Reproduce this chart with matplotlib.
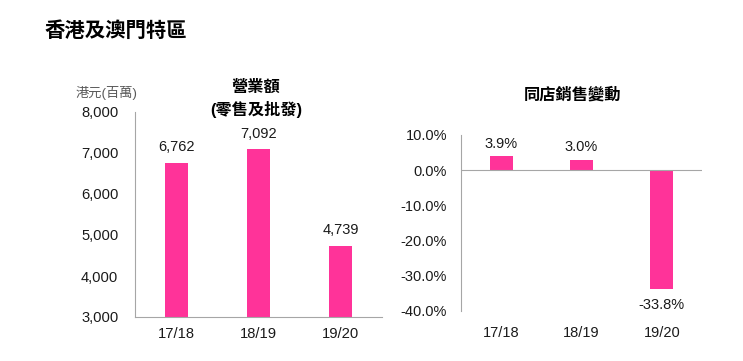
import matplotlib
matplotlib.use("Agg")
import matplotlib.pyplot as plt

plt.rcParams['font.family'] = ['Liberation Sans', 'Noto Sans CJK TC', 'DejaVu Sans']

categories = ["17/18", "18/19", "19/20"]
revenue = [6762, 7092, 4739]
sss_change = [3.9, 3.0, -33.8]
rev_ticks = [3000, 4000, 5000, 6000, 7000, 8000]
sss_ticks = [10, 0, -10, -20, -30, -40]

pink = '#FF3399'
axis_col = '#A6A6A6'
text_col = '#1A1A1A'

fig = plt.figure(figsize=(7.43, 3.61), dpi=100)
fig.text(45/743, 1-31/361, "香港及澳門特區", fontsize=14.7, fontweight='bold',
         va='center', ha='left', color='black')

# Left chart
ax1 = fig.add_axes([135/743, 1-317/361, 247/743, 205/361])
x = range(len(categories))
ax1.bar(x, revenue, width=0.28, color=pink)
ax1.set_ylim(3000, 8000)
ax1.set_xlim(-0.5, 2.5)
ax1.set_yticks(rev_ticks)
ax1.set_yticklabels([f"{v:,}" for v in rev_ticks])
ax1.set_xticks(list(x))
ax1.set_xticklabels(categories)
ax1.tick_params(length=0, labelsize=10.6, colors=text_col)
ax1.tick_params(axis='y', pad=12)
ax1.tick_params(axis='x', pad=7)
for s in ['top', 'right']:
    ax1.spines[s].set_visible(False)
for s in ['left', 'bottom']:
    ax1.spines[s].set_color(axis_col)
for i, v in enumerate(revenue):
    ax1.annotate(f"{v:,}", (i, v), xytext=(0, 6), textcoords='offset points',
                 ha='center', va='bottom', fontsize=10.5, color=text_col)
fig.text(256/743, 1-99/361, "營業額\n(零售及批發)", fontsize=11.7, fontweight='bold',
         ha='center', va='center', linespacing=1.45, color='black')
fig.text(106/743, 1-93/361, "港元(百萬)", fontsize=9.5, color='#595959',
         ha='center', va='center')

# Right chart
ax2 = fig.add_axes([461/743, 1-311/361, 241/743, 176/361])
ax2.bar(x, sss_change, width=0.29, color=pink)
ax2.set_ylim(-40, 10)
ax2.set_xlim(-0.5, 2.5)
ax2.set_yticks(sss_ticks)
ax2.set_yticklabels([f"{v:.1f}%" for v in sss_ticks])
ax2.set_xticks(list(x))
ax2.set_xticklabels(categories)
ax2.tick_params(length=0, labelsize=10.5, colors=text_col)
ax2.tick_params(axis='y', pad=10)
ax2.tick_params(axis='x', pad=11)
for s in ['top', 'right', 'bottom']:
    ax2.spines[s].set_visible(False)
ax2.spines['left'].set_color(axis_col)
ax2.axhline(0, color=axis_col, lw=0.8)
for i, v in enumerate(sss_change):
    off = 4 if v >= 0 else -6
    ax2.annotate(f"{v:.1f}%", (i, v), xytext=(0, off), textcoords='offset points',
                 ha='center', va='bottom' if v >= 0 else 'top', fontsize=10.5, color=text_col)
fig.text(573/743, 1-95/361, "同店銷售變動", fontsize=11.7, fontweight='bold',
         ha='center', va='center', color='black')

fig.savefig("out.png", dpi=100)
